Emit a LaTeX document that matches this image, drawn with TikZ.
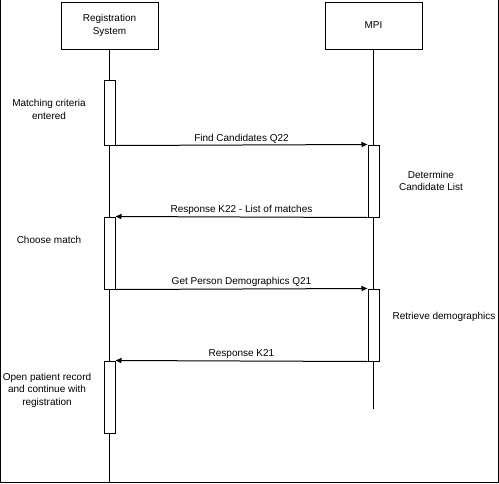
\documentclass[tikz,border=0pt]{standalone}
\usepackage{fontspec}
\setmainfont{Liberation Sans}
\usetikzlibrary{arrows.meta,positioning}

\begin{document}
\begin{tikzpicture}[
                x=1pt, y=-1pt,
                line width=1pt,
                actor/.style={
                        draw=black,
                        minimum width=97pt,
                        minimum height=47pt,
                        align=center,
                        inner sep=0pt,
                        font=\fontsize{10}{13}\selectfont
                    },
                activation/.style={draw=black, fill=white, minimum width=11pt, inner sep=0pt},
                msg/.style={-{Triangle[length=6pt,width=5pt]}},
                msglabel/.style={above, inner sep=1.5pt, font=\fontsize{10}{12.5}\selectfont},
                note/.style={align=center, inner sep=0pt, font=\fontsize{10}{12.5}\selectfont}
            ]
            \useasboundingbox (0,0) rectangle (499,483);

            % Marco
            \draw (0.5,0) -- (0.5,482.5) -- (498.5,482.5) -- (498.5,0);

            % Participantes
            \node[actor] (reg) at (109.5,25.5) {Registration\\System};
            \node[actor] (mpi) at (373.5,25.5) {MPI};

            % Lineas de vida
            \coordinate (regend) at (109.5,482);
            \coordinate (mpiend) at (373.5,409);
            \draw (reg.south) -- (regend);
            \draw (mpi.south) -- (mpiend);

            % Activaciones
            \node[activation, minimum height=65pt] (regact1) at (109.5,112.5) {};
            \node[activation, minimum height=72pt] (regact2) at (109.5,253) {};
            \node[activation, minimum height=72pt] (regact3) at (109.5,397) {};
            \node[activation, minimum height=72pt] (mpiact1) at (373.5,181) {};
            \node[activation, minimum height=72pt] (mpiact2) at (373.5,325) {};

            % Mensajes
            \draw[msg] (regact1.south east) -- node[msglabel] {Find Candidates Q22} (mpiact1.north west);
            \draw[msg] (mpiact1.south west) -- node[msglabel] {Response K22 - List of matches} (regact2.north east);
            \draw[msg] (regact2.south east) -- node[msglabel] {Get Person Demographics Q21} (mpiact2.north west);
            \draw[msg] (mpiact2.south west) -- node[msglabel] {Response K21} (regact3.north east);

            % Notas
            \node[note] (matching) at (49,109.5) {Matching criteria\\entered};
            \node[note] (choose) at (49,240) {Choose match};
            \node[note] (openrec) at (47,390) {Open patient record\\and continue with\\registration};
            \node[note] (determine) at (431,181) {Determine\\Candidate List};
            \node[note] (retrieve) at (444,317) {Retrieve demographics};

        \end{tikzpicture}
\end{document}
